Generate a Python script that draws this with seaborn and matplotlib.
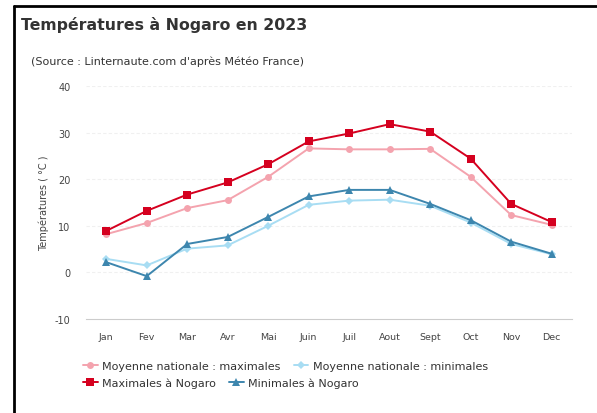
import matplotlib
matplotlib.use('Agg')
import matplotlib.pyplot as plt
import numpy as np
import pandas as pd
import seaborn as sns

months = ['Jan', 'Fev', 'Mar', 'Avr', 'Mai', 'Juin', 'Juil', 'Aout', 'Sept', 'Oct', 'Nov', 'Dec']
moy_max = [8.2, 10.6, 13.8, 15.5, 20.5, 26.6, 26.4, 26.4, 26.5, 20.5, 12.3, 10.2]
moy_min = [2.9, 1.5, 5.1, 5.8, 10.0, 14.5, 15.4, 15.6, 14.3, 10.7, 6.1, 3.9]
nog_max = [8.9, 13.2, 16.7, 19.3, 23.2, 28.1, 29.8, 31.8, 30.2, 24.4, 14.7, 10.8]
nog_min = [2.2, -0.8, 6.1, 7.6, 11.9, 16.3, 17.7, 17.7, 14.7, 11.2, 6.6, 4.0]
y_ticks = [-10, 0, 10, 20, 30, 40]

labels = ['Moyenne nationale : maximales', 'Moyenne nationale : minimales',
          'Maximales à Nogaro', 'Minimales à Nogaro']
colors = ['#f4a3ae', '#a8ddf3', '#d5001f', '#3d86ae']
markers = ['o', 'D', 's', '^']
msizes = [5, 4, 6, 5.5]

sns.set_style('white')
plt.rcParams['font.family'] = ['DejaVu Sans']

fig = plt.figure(figsize=(5.97, 4.14), dpi=100)
ax = fig.add_axes([0.144, 0.227, 0.814, 0.563])

x = np.arange(len(months))
for vals, lab, col, mk, ms in zip([moy_max, moy_min, nog_max, nog_min], labels, colors, markers, msizes):
    sns.lineplot(x=x, y=vals, ax=ax, color=col, marker=mk, markersize=ms,
                 markeredgewidth=0, linewidth=1.4, label=lab)

ax.set_xlim(-0.5, len(months) - 0.5)
ax.set_ylim(-10, 40)
ax.set_yticks(y_ticks)
ax.set_yticklabels([str(v) for v in y_ticks], fontsize=7, color='#444444')
ax.set_xticks(x)
ax.set_xticklabels(months, fontsize=6.8, color='#444444')
ax.set_xticks(np.arange(len(months) + 1) - 0.5, minor=True)
ax.tick_params(axis='x', which='major', length=0, pad=9)
ax.tick_params(axis='x', which='minor', length=5, color='#cccccc', width=0.8)
ax.tick_params(axis='y', length=0, pad=11)
for yv in y_ticks[1:]:
    ax.axhline(yv, color='#f0f0f0', linewidth=0.8, linestyle=(0, (3, 2)), zorder=0)
for s in ['top', 'right', 'left']:
    ax.spines[s].set_visible(False)
ax.spines['bottom'].set_color('#cccccc')
ax.spines['bottom'].set_linewidth(0.8)
ax.set_ylabel('Températures ( °C )', fontsize=7, color='#444444', labelpad=4)

h, l = ax.get_legend_handles_labels()
ax.get_legend().remove()
fig.legend(h[:2], l[:2], loc='upper left', bbox_to_anchor=(0.13, 0.139), ncol=2,
           frameon=False, fontsize=8, handlelength=1.3, handletextpad=0.4,
           columnspacing=1.2, borderpad=0, labelcolor='#333333')
fig.legend(h[2:], l[2:], loc='upper left', bbox_to_anchor=(0.13, 0.100), ncol=2,
           frameon=False, fontsize=8, handlelength=1.3, handletextpad=0.4,
           columnspacing=1.2, borderpad=0, labelcolor='#333333')

fig.text(0.036, 0.94, 'Températures à Nogaro en 2023', fontsize=11.3, fontweight='bold',
         color='#333333', va='center')
fig.text(0.052, 0.85, "(Source : Linternaute.com d'après Météo France)", fontsize=8,
         color='#333333', va='center')

# black frame on top and left
fig.add_artist(plt.Line2D([0.024, 0.024], [0.0, 0.983], color='black', linewidth=2))
fig.add_artist(plt.Line2D([0.024, 1.0], [0.983, 0.983], color='black', linewidth=2))

fig.savefig('out.png', dpi=100)
